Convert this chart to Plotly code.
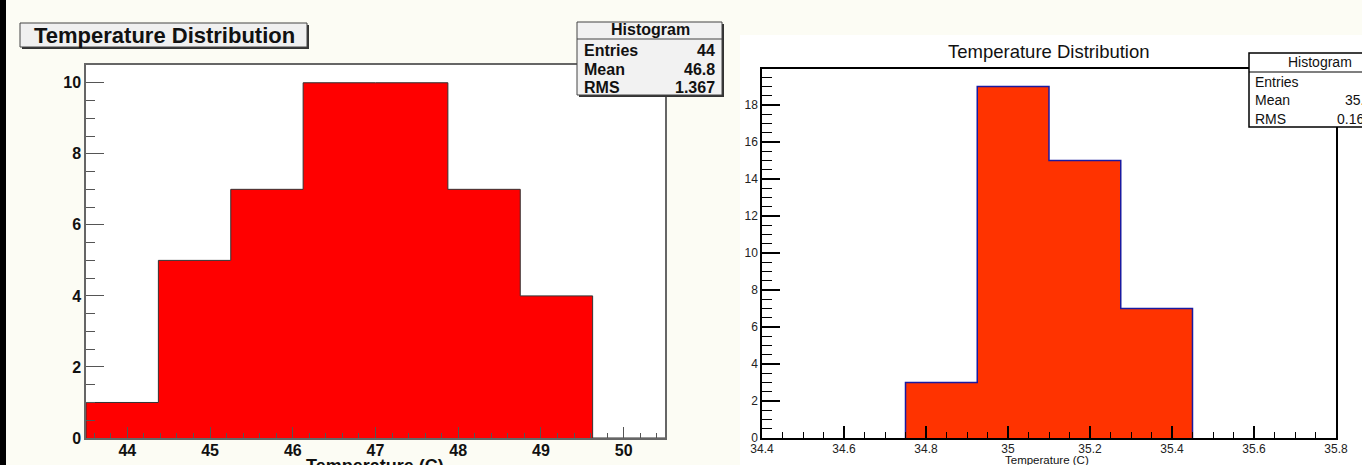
import plotly.graph_objects as go

W, H = 1362, 465

# ---------------- data ----------------
left_bin_edges = [43.5, 44.375, 45.25, 46.125, 47.0, 47.875, 48.75, 49.625, 50.5]
left_counts = [1, 5, 7, 10, 10, 7, 4, 0]
left_stats_labels = ["Entries", "Mean", "RMS"]
left_stats_values = ["44", "46.8", "1.367"]

right_bin_edges = [34.75, 34.925, 35.1, 35.275, 35.45]
right_counts = [3, 19, 15, 7]
right_stats_labels = ["Entries", "Mean", "RMS"]
right_stats_values = ["44", "35.12", "0.1604"]

title_text = "Temperature Distribution"
xtitle_text = "Temperature (C)"
stats_title = "Histogram"


def X(px):
    return px / W


def Y(py):
    return 1 - py / H


def step_xy(edges, counts):
    xs, ys = [edges[0]], [0]
    for i, c in enumerate(counts):
        xs += [edges[i], edges[i + 1]]
        ys += [c, c]
    xs.append(edges[-1])
    ys.append(0)
    return xs, ys


fig = go.Figure()

sx, sy = step_xy(left_bin_edges, left_counts)
fig.add_trace(go.Scatter(x=sx, y=sy, mode="lines", fill="toself", fillcolor="#ff0000",
                         line=dict(color="#333333", width=1),
                         xaxis="x", yaxis="y", showlegend=False, hoverinfo="skip"))

sx2, sy2 = step_xy(right_bin_edges, right_counts)
fig.add_trace(go.Scatter(x=sx2, y=sy2, mode="lines", fill="toself", fillcolor="#ff3300",
                         line=dict(color="#1a1aa0", width=1.5),
                         xaxis="x2", yaxis="y2", showlegend=False, hoverinfo="skip"))

lfont = dict(family="Liberation Sans, Arial, sans-serif", size=16, color="#111111", weight="bold")
rfont = dict(family="Liberation Sans, Arial, sans-serif", size=12, color="#222222")

# frames in px
L_x0, L_x1, L_y0, L_y1 = 86, 665, 65, 438
R_x0, R_x1, R_y0, R_y1 = 762, 1336, 69, 438

fig.update_layout(
    template="none",
    width=W, height=H, margin=dict(l=0, r=0, t=0, b=0, autoexpand=False),
    paper_bgcolor="#fcfcf4", plot_bgcolor="#ffffff",
    xaxis=dict(domain=[X(L_x0), X(L_x1)], range=[43.5, 50.5], anchor="y", automargin=False,
               showline=True, mirror=True, linecolor="#666666", linewidth=1.5,
               ticks="inside", ticklen=11, tickcolor="#555555", tickwidth=1.2,
               tick0=44, dtick=1, showgrid=False, zeroline=False, tickfont=lfont,
               ticklabelstandoff=-3,
               minor=dict(dtick=0.2, tick0=44, ticks="inside", ticklen=5, tickcolor="#555555", tickwidth=1, showgrid=False)),
    yaxis=dict(domain=[Y(L_y1), Y(L_y0)], range=[0, 10.5], anchor="x", automargin=False,
               showline=True, mirror=True, linecolor="#666666", linewidth=1.5,
               ticks="inside", ticklen=18, tickcolor="#555555", tickwidth=1.2,
               tick0=0, dtick=2, showgrid=False, zeroline=False, tickfont=lfont,
               minor=dict(dtick=0.5, tick0=0, ticks="inside", ticklen=9, tickcolor="#555555", tickwidth=1, showgrid=False)),
    xaxis2=dict(domain=[X(R_x0), X(R_x1)], range=[34.4, 35.8], anchor="y2", automargin=False,
                showline=True, mirror=True, linecolor="#000000", linewidth=1.5,
                ticks="inside", ticklen=12, tickcolor="#000000", tickwidth=1.5,
                tick0=34.4, dtick=0.2, showgrid=False, zeroline=False, tickfont=rfont,
                ticklabelstandoff=-1,
                minor=dict(dtick=0.05, tick0=34.4, ticks="inside", ticklen=6, tickcolor="#000000", tickwidth=1.2, showgrid=False)),
    yaxis2=dict(domain=[Y(R_y1), Y(R_y0)], range=[0, 19.95], anchor="x2", automargin=False,
                showline=True, mirror=True, linecolor="#000000", linewidth=1.5,
                ticks="inside", ticklen=18, tickcolor="#000000", tickwidth=1.5,
                tick0=0, dtick=2, showgrid=False, zeroline=False, tickfont=rfont,
                minor=dict(dtick=0.5, tick0=0, ticks="inside", ticklen=10, tickcolor="#000000", tickwidth=1.2, showgrid=False)),
)

shapes = []
# black strip at left
shapes.append(dict(type="rect", xref="paper", yref="paper", x0=X(0), x1=X(6), y0=0, y1=1,
                   fillcolor="#000000", line=dict(width=0), layer="below"))
# right white panel
shapes.append(dict(type="rect", xref="paper", yref="paper", x0=X(740), x1=1, y0=0, y1=Y(35),
                   fillcolor="#ffffff", line=dict(width=0), layer="below"))


def box(x0, y0, x1, y1, fill, line_color, shadow=True, lw=1):
    out = []
    if shadow:
        out.append(dict(type="rect", xref="paper", yref="paper", x0=X(x0 + 2), x1=X(x1 + 2),
                        y0=Y(y1 + 2), y1=Y(y0 + 2), fillcolor="#333333", line=dict(width=0), layer="above"))
    out.append(dict(type="rect", xref="paper", yref="paper", x0=X(x0), x1=X(x1), y0=Y(y1), y1=Y(y0),
                    fillcolor=fill, line=dict(color=line_color, width=lw), layer="above"))
    return out


# left title box
shapes += box(20, 23, 307, 47, "#f0f0f0", "#444444")
# left stats box
shapes += box(577, 22, 722, 95, "#f2f2f2", "#444444")
shapes.append(dict(type="line", xref="paper", yref="paper", x0=X(577), x1=X(722), y0=Y(39), y1=Y(39),
                   line=dict(color="#444444", width=1), layer="above"))
# right stats box
shapes += box(1249, 53, 1400, 127, "#ffffff", "#000000", shadow=False, lw=1.5)
shapes.append(dict(type="line", xref="paper", yref="paper", x0=X(1249), x1=X(1400), y0=Y(72), y1=Y(72),
                   line=dict(color="#000000", width=1.2), layer="above"))

annotations = []


def ann(text, x, y, font, xanchor="center", yanchor="middle"):
    annotations.append(dict(text=text, x=X(x), y=Y(y), xref="paper", yref="paper", showarrow=False,
                            xanchor=xanchor, yanchor=yanchor, font=font))


def bold(s, c="#111111"):
    return dict(family="Liberation Sans, Arial, sans-serif", size=s, color=c, weight="bold")


def reg(s, c="#111111"):
    return dict(family="Liberation Sans, Arial, sans-serif", size=s, color=c)


# left texts
ann(title_text, 164, 35, bold(22))
ann(stats_title, 650, 30, bold(16))
for i, (lab, val) in enumerate(zip(left_stats_labels, left_stats_values)):
    yy = 51 + i * 18.5
    ann(lab, 582, yy, bold(16), xanchor="left")
    ann(val, 717, yy, bold(16), xanchor="right")
ann(xtitle_text, 375, 466, bold(18))

# right texts
ann(title_text, 1049, 52, reg(18.5))
ann(stats_title, 1320, 62, reg(14))
for i, (lab, val) in enumerate(zip(right_stats_labels, right_stats_values)):
    yy = 82 + i * 18.5
    ann(lab, 1253, yy, reg(14), xanchor="left")
    ann(val, 1382, yy, reg(14), xanchor="right")
ann(xtitle_text, 1047, 460, reg(11.5))

fig.update_layout(shapes=shapes, annotations=annotations)

fig.write_html("out.html", config={"displayModeBar": False},
               post_script="document.body.style.margin='0';document.body.style.overflow='hidden';")
